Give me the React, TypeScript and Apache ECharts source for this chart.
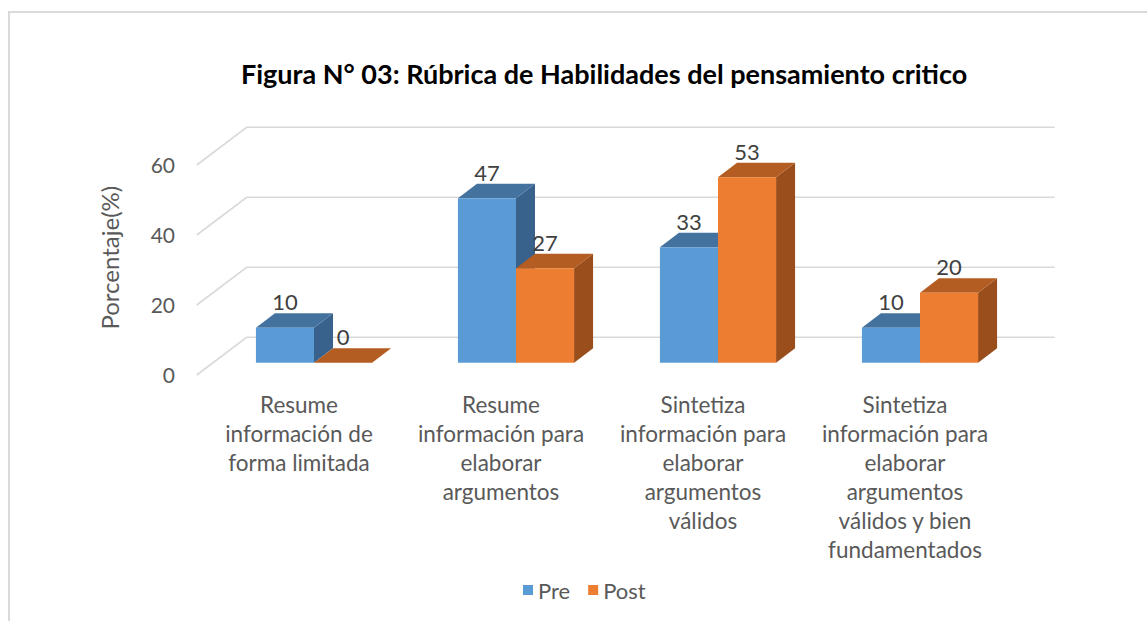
import React, { useEffect, useRef } from "react";
import * as echarts from "echarts";

const categories = [
  "Resume\ninformación de\nforma limitada",
  "Resume\ninformación para\nelaborar\nargumentos",
  "Sintetiza\ninformación para\nelaborar\nargumentos\nválidos",
  "Sintetiza\ninformación para\nelaborar\nargumentos\nválidos y bien\nfundamentados",
];
const seriesNames = ["Pre", "Post"];
const preValues = [10, 47, 33, 10];
const postValues = [0, 27, 53, 20];
const yTicks = [0, 20, 40, 60];
const titleText = "Figura N° 03: Rúbrica de Habilidades del pensamiento critico";
const yAxisTitle = "Porcentaje(%)";

const FONT = "Lato, 'Open Sans', sans-serif";
const DX = 19;
const DY = -14.5;
const BAR_RATIO = 0.2875;
const faces = [
  { front: "#5b9bd5", top: "#44729e", side: "#38628c" },
  { front: "#ed7d31", top: "#b45d22", side: "#9a4e1c" },
];

function makeBarRender(si: number) {
  return (params: any, api: any) => {
    const ci = api.value(0);
    const v = api.value(1);
    const base = api.coord([ci, 0]);
    const topP = api.coord([ci, v]);
    const band = api.size([1, 0])[0];
    const bw = band * BAR_RATIO;
    const x0 = base[0] - bw + si * bw;
    const x1 = x0 + bw;
    const yb = base[1];
    const yt = topP[1];
    const f = faces[si];
    return {
      type: "group",
      children: [
        {
          type: "polygon",
          shape: { points: [[x1, yb], [x1, yt], [x1 + DX, yt + DY], [x1 + DX, yb + DY]] },
          style: { fill: f.side },
        },
        {
          type: "polygon",
          shape: { points: [[x0, yt], [x1, yt], [x1 + DX, yt + DY], [x0 + DX, yt + DY]] },
          style: { fill: f.top },
        },
        {
          type: "rect",
          shape: { x: x0, y: yt, width: bw, height: yb - yt },
          style: { fill: f.front },
        },
        {
          type: "text",
          style: {
            text: String(v),
            x: (x0 + x1) / 2,
            y: yt - 26,
            align: "center",
            verticalAlign: "middle",
            fontSize: 22,
            fontFamily: FONT,
            fill: "#404040",
          },
        },
      ],
    };
  };
}

function renderGridLine(params: any, api: any) {
  const v = api.value(1);
  const band = api.size([1, 0])[0];
  const left = api.coord([0, v])[0] - band / 2;
  const right = api.coord([categories.length - 1, v])[0] + band / 2;
  const y = api.coord([0, v])[1];
  return {
    type: "polyline",
    shape: {
      points: [
        [left - 16.3, y + 12.3],
        [left + 33.7, y - 25.4],
        [right + 33.7, y - 25.4],
      ],
    },
    style: { stroke: "#d9d9d9", lineWidth: 1.6, fill: "none" },
  };
}

export default function App() {
  const ref = useRef<HTMLDivElement>(null);
  useEffect(() => {
    if (!ref.current) return;
    const chart = echarts.init(ref.current, undefined, { renderer: "svg" });
    chart.setOption({
      animation: false,
      backgroundColor: "#ffffff",
      title: {
        text: titleText,
        left: 236,
        top: 55,
        textStyle: { fontFamily: FONT, fontSize: 27, fontWeight: "bold", color: "#000000" },
      },
      legend: {
        data: seriesNames,
        left: 518,
        top: 574,
        icon: "rect",
        itemWidth: 10,
        itemHeight: 10,
        itemGap: 18,
        itemTextGap: 7,
        textStyle: { fontFamily: FONT, fontSize: 22, color: "#595959" },
      },
      graphic: [
        {
          type: "rect",
          shape: { x: 9, y: 12, width: 1300, height: 800 },
          style: { fill: "none", stroke: "#d9d9d9", lineWidth: 2 },
          silent: true,
          z: -1,
        },
      ],
      grid: { left: 213, right: 126, top: 152.7, bottom: 258.3 },
      xAxis: {
        type: "category",
        data: categories,
        axisLine: { show: false },
        axisTick: { show: false },
        axisLabel: {
          interval: 0,
          margin: 27,
          fontFamily: FONT,
          fontSize: 22.5,
          lineHeight: 29,
          color: "#595959",
          padding: [0, 30, 0, 0],
        },
      },
      yAxis: {
        type: "value",
        min: 0,
        max: 60,
        interval: 20,
        splitLine: { show: false },
        axisLine: { show: false },
        axisTick: { show: false },
        axisLabel: {
          margin: 38,
          fontFamily: FONT,
          fontSize: 21,
          color: "#595959",
          verticalAlign: "top",
          lineHeight: 24,
        },
        name: yAxisTitle,
        nameLocation: "middle",
        nameGap: 92,
        nameTextStyle: { fontFamily: FONT, fontSize: 24, color: "#595959" },
      },
      series: [
        {
          type: "custom",
          name: "grid",
          renderItem: renderGridLine,
          data: yTicks.map((v) => [0, v]),
          z: 1,
          silent: true,
          legendHoverLink: false,
        },
        {
          type: "custom",
          name: seriesNames[0],
          renderItem: makeBarRender(0),
          data: preValues.map((v, i) => [i, v]),
          itemStyle: { color: faces[0].front },
          z: 2,
        },
        {
          type: "custom",
          name: seriesNames[1],
          renderItem: makeBarRender(1),
          data: postValues.map((v, i) => [i, v]),
          itemStyle: { color: faces[1].front },
          z: 3,
        },
      ],
    });
    return () => chart.dispose();
  }, []);
  return (
    <div
      ref={ref}
      style={{ position: "fixed", left: 0, top: 0, width: 1147, height: 621 }}
    />
  );
}
